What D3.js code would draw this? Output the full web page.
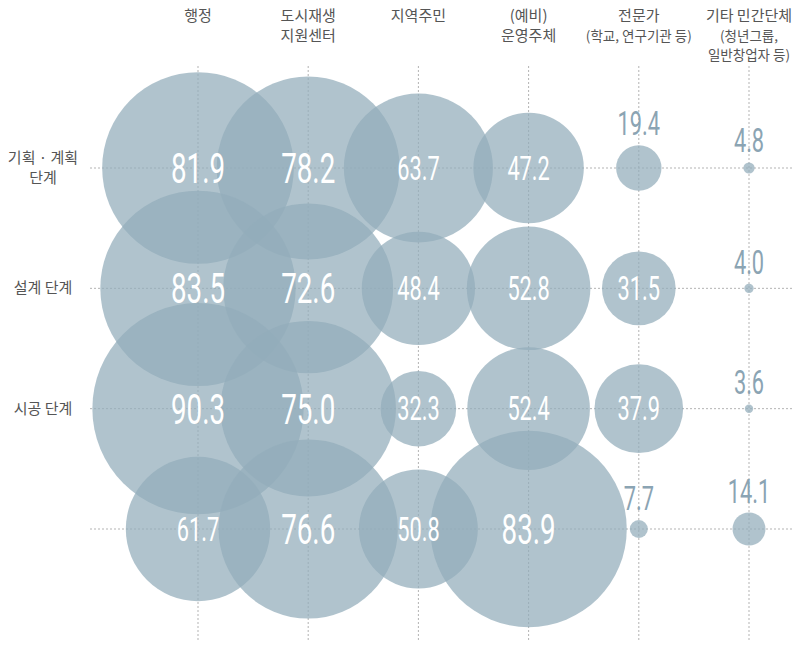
<!DOCTYPE html>
<html>
<head>
<meta charset="utf-8">
<script src="https://cdn.jsdelivr.net/npm/d3@7"></script>
<style>
  body { margin: 0; background: #fff; }
  svg { display: block; }
  .head, .rowlab { font-family: "Noto Sans CJK KR", "Noto Sans", sans-serif; fill: #555; }
  .num { font-family: Roboto, "Liberation Sans", sans-serif; }
</style>
</head>
<body>
<div id="chart"></div>
<script>
//column headers (each line of the header, second size for the small ones)
var columns = ["행정", "도시재생 지원센터", "지역주민", "(예비) 운영주체", "전문가", "기타 민간단체"];
var columnLines = [
  [["행정", 15]],
  [["도시재생", 15], ["지원센터", 15]],
  [["지역주민", 15]],
  [["(예비)", 15], ["운영주체", 15]],
  [["전문가", 15], ["(학교, 연구기관 등)", 13.5]],
  [["기타 민간단체", 15], ["(청년그룹,", 13.5], ["일반창업자 등)", 13.5]]
];

//row labels (last row has no label in the source)
var stages = ["기획·계획 단계", "설계 단계", "시공 단계", "기타"];
var stageLines = [["기획 · 계획", "단계"], ["설계 단계"], ["시공 단계"], []];

//values per stage, in column order
var planning = [81.9, 78.2, 63.7, 47.2, 19.4, 4.8];
var design = [83.5, 72.6, 48.4, 52.8, 31.5, 4.0];
var construction = [90.3, 75.0, 32.3, 52.4, 37.9, 3.6];
var other = [61.7, 76.6, 50.8, 83.9, 7.7, 14.1];
var series = [planning, design, construction, other];

var width = 793, height = 648;

var svg = d3.select("#chart").append("svg")
    .attr("width", width)
    .attr("height", height);

//scales
var x = d3.scalePoint().domain(columns).range([198, 749]);
var y = d3.scalePoint().domain(stages).range([168, 529]);
var r = d3.scaleLinear().domain([0, 100]).range([0, 117]);

var cells = [];
series.forEach(function(vals, i) {
  vals.forEach(function(v, j) {
    cells.push({stage: stages[i], col: columns[j], value: v});
  });
});

//dashed grid
svg.append("g").selectAll("line")
  .data(columns).join("line")
    .attr("x1", function(d) { return x(d); })
    .attr("x2", function(d) { return x(d); })
    .attr("y1", 66).attr("y2", 641)
    .attr("stroke", "#b3b3b3")
    .attr("stroke-dasharray", "2,2");

svg.append("g").selectAll("line")
  .data(stages).join("line")
    .attr("x1", 90).attr("x2", width)
    .attr("y1", function(d) { return y(d); })
    .attr("y2", function(d) { return y(d); })
    .attr("stroke", "#b3b3b3")
    .attr("stroke-dasharray", "2,2");

//bubbles
svg.append("g").selectAll("circle")
  .data(cells).join("circle")
    .attr("cx", function(d) { return x(d.col); })
    .attr("cy", function(d) { return y(d.stage); })
    .attr("r", function(d) { return r(d.value); })
    .attr("fill", "#93adbb")
    .attr("fill-opacity", 0.73);

//value labels
function fontSize(d) {
  if (d.value >= 70) return 42;
  return 33;
}
svg.append("g").selectAll("text")
  .data(cells).join("text")
    .attr("class", "num")
    .attr("text-anchor", "middle")
    .attr("font-size", fontSize)
    .attr("fill", function(d) { return d.value < 25 ? "#8ba4b3" : "#fff"; })
    .attr("transform", function(d) {
      var cx = x(d.col), cy = y(d.stage);
      var by = d.value < 25 ? cy - r(d.value) - 10 : cy + fontSize(d) * 0.355;
      return "translate(" + cx + "," + by + ") scale(0.66,1)";
    })
    .text(function(d) { return d.value.toFixed(1); });

//column headers
var head = svg.append("g").selectAll("text")
  .data(columns).join("text")
    .attr("class", "head")
    .attr("text-anchor", "middle")
    .attr("x", function(d) { return x(d); });
head.selectAll("tspan")
  .data(function(d, i) { return columnLines[i]; })
  .join("tspan")
    .attr("x", function() { return x(d3.select(this.parentNode).datum()); })
    .attr("y", function(d, i) { return 21 + i * 19.5; })
    .attr("font-size", function(d) { return d[1]; })
    .text(function(d) { return d[0]; });

//row labels
var rows = svg.append("g").selectAll("text")
  .data(stages).join("text")
    .attr("class", "rowlab")
    .attr("text-anchor", "middle")
    .attr("font-size", 15);
rows.selectAll("tspan")
  .data(function(d, i) {
    var lines = stageLines[i];
    return lines.map(function(t, k) { return {t: t, k: k, n: lines.length, s: d}; });
  })
  .join("tspan")
    .attr("x", 43)
    .attr("y", function(d) { return y(d.s) + 5 - (d.n - 1) * 10 + d.k * 20; })
    .text(function(d) { return d.t; });
</script>
</body>
</html>
